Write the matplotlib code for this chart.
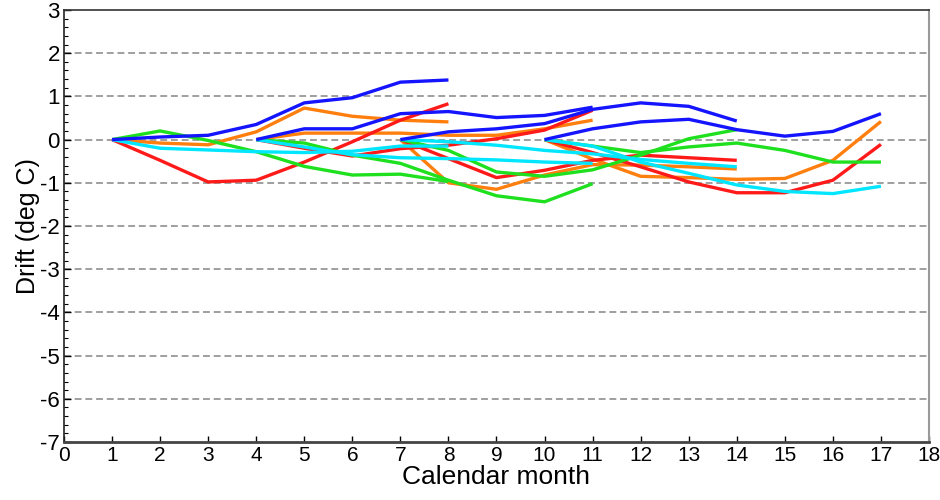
import matplotlib
matplotlib.use("Agg")
import matplotlib.pyplot as plt
from matplotlib.ticker import MultipleLocator

# Start months of the forecast runs and their monthly drift values (deg C)
start_months = [1, 4, 7, 10]

blue = [
    [0, 0.06, 0.10, 0.35, 0.85, 0.97, 1.33, 1.38],
    [0, 0.25, 0.25, 0.60, 0.65, 0.51, 0.56, 0.75],
    [0, 0.18, 0.25, 0.37, 0.70, 0.85, 0.77, 0.43],
    [0, 0.25, 0.41, 0.47, 0.23, 0.08, 0.19, 0.60],
]
orange = [
    [0, -0.08, -0.12, 0.18, 0.73, 0.54, 0.45, 0.41],
    [0, 0.15, 0.15, 0.15, 0.10, 0.10, 0.25, 0.45],
    [0, -1.00, -1.15, -0.82, -0.58, -0.59, -0.63, -0.68],
    [0, -0.45, -0.85, -0.88, -0.92, -0.90, -0.48, 0.42],
]
red = [
    [0, -0.48, -0.98, -0.94, -0.52, -0.05, 0.45, 0.83],
    [0, -0.20, -0.38, -0.21, -0.13, 0.02, 0.22, 0.68],
    [0, -0.44, -0.88, -0.71, -0.48, -0.36, -0.42, -0.48],
    [0, -0.30, -0.63, -0.98, -1.23, -1.23, -0.94, -0.11],
]
green = [
    [0, 0.20, -0.02, -0.28, -0.62, -0.82, -0.80, -0.97],
    [0, -0.08, -0.36, -0.55, -0.94, -1.30, -1.44, -1.02],
    [0, -0.25, -0.75, -0.85, -0.70, -0.36, 0.02, 0.23],
    [0, -0.15, -0.30, -0.17, -0.08, -0.25, -0.52, -0.52],
]
cyan = [
    [0, -0.20, -0.24, -0.28, -0.30, -0.27, -0.15, -0.15],
    [0, -0.17, -0.35, -0.42, -0.44, -0.47, -0.52, -0.55],
    [0, -0.05, -0.13, -0.25, -0.33, -0.46, -0.55, -0.63],
    [0, -0.15, -0.52, -0.78, -1.05, -1.20, -1.25, -1.08],
]

series = [
    ("#ff7f0e", orange),
    ("#ff1a1a", red),
    ("#1fe01f", green),
    ("#00e6ff", cyan),
    ("#1414ff", blue),
]

xticks = list(range(0, 19))
yticks = list(range(-7, 4))

fig = plt.figure(figsize=(9.4, 5.0), dpi=100)
ax = fig.add_axes([64/940, 1-442/500, (929-64)/940, (442-10)/500])

for y in yticks[1:-1]:
    ax.axhline(y, color="#858585", lw=1.1, ls=(0, (4.5, 2.5)), zorder=1)

for color, runs in series:
    for s, vals in zip(start_months, runs):
        months = list(range(s, s + len(vals)))
        ax.plot(months, vals, color=color, lw=2.4, zorder=3,
                solid_joinstyle="round", solid_capstyle="butt")

ax.set_xlim(0, 18)
ax.set_ylim(-7, 3)
ax.set_xticks(xticks)
ax.set_yticks(yticks)
ax.yaxis.set_minor_locator(MultipleLocator(0.2))

fam = ["Liberation Sans", "DejaVu Sans"]
ax.set_xticklabels([str(v) for v in xticks], family=fam, fontsize=15)
ax.set_yticklabels([str(v) for v in yticks], family=fam, fontsize=16)

ax.tick_params(axis="x", which="major", direction="in", length=4, width=1, pad=3, top=False)
ax.tick_params(axis="y", which="major", direction="in", length=5, width=1, pad=3, right=False)
ax.tick_params(axis="y", which="minor", direction="in", length=3, width=0.8, right=False)

ax.set_xlabel("Calendar month", family=fam, fontsize=19, labelpad=0)
ax.set_ylabel("Drift (deg C)", family=fam, fontsize=18, labelpad=0)

ax.spines["left"].set_color("#222222")
ax.spines["left"].set_linewidth(1.2)
ax.spines["top"].set_color("#333333")
ax.spines["top"].set_linewidth(1.2)
ax.spines["right"].set_color("#999999")
ax.spines["right"].set_linewidth(1.5)
ax.spines["bottom"].set_color("#444444")
ax.spines["bottom"].set_linewidth(2.0)

fig.savefig("out.png", dpi=100)
